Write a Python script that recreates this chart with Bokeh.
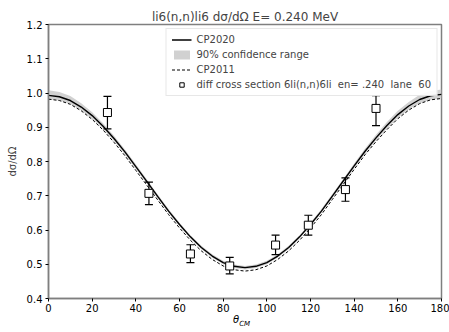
from bokeh.plotting import figure
from bokeh.models import Range1d, FixedTicker, Legend, LegendItem, PrintfTickFormatter, Div
from bokeh.layouts import column
from bokeh.embed import file_html
from bokeh.resources import INLINE

# ---- data ----
theta = [0, 5, 10, 15, 20, 25, 30, 35, 40, 45, 50, 55, 60, 65, 70, 75, 80, 85, 90,
         95, 100, 105, 110, 115, 120, 125, 130, 135, 140, 145, 150, 155, 160, 165, 170, 175, 180]
cp2020 = [0.993, 0.989, 0.978, 0.959, 0.934, 0.903, 0.867, 0.828, 0.785, 0.742, 0.698, 0.655, 0.616,
          0.580, 0.549, 0.524, 0.505, 0.494, 0.490,
          0.494, 0.505, 0.524, 0.549, 0.580, 0.616, 0.655, 0.699, 0.743, 0.787, 0.830, 0.869,
          0.905, 0.937, 0.962, 0.981, 0.992, 0.996]
band_lo = [0.982, 0.978, 0.968, 0.950, 0.925, 0.895, 0.860, 0.821, 0.779, 0.736, 0.692, 0.650, 0.611,
           0.575, 0.544, 0.519, 0.500, 0.489, 0.485,
           0.489, 0.500, 0.519, 0.544, 0.575, 0.611, 0.650, 0.693, 0.737, 0.780, 0.823, 0.861,
           0.896, 0.928, 0.952, 0.970, 0.980, 0.984]
band_hi = [1.008, 1.003, 0.991, 0.970, 0.944, 0.912, 0.875, 0.835, 0.792, 0.748, 0.704, 0.661, 0.621,
           0.585, 0.554, 0.529, 0.510, 0.499, 0.495,
           0.499, 0.510, 0.529, 0.554, 0.585, 0.621, 0.661, 0.705, 0.749, 0.794, 0.838, 0.878,
           0.915, 0.948, 0.974, 0.995, 1.006, 1.010]
cp2011 = [0.982, 0.978, 0.967, 0.948, 0.923, 0.892, 0.856, 0.817, 0.774, 0.731, 0.688, 0.645, 0.606,
          0.570, 0.539, 0.514, 0.495, 0.484, 0.480,
          0.484, 0.495, 0.514, 0.539, 0.570, 0.606, 0.645, 0.689, 0.733, 0.777, 0.820, 0.858,
          0.893, 0.925, 0.950, 0.969, 0.980, 0.984]

exp_theta = [27, 46, 65, 83, 104, 119, 136, 150]
exp_val = [0.943, 0.707, 0.530, 0.495, 0.556, 0.614, 0.718, 0.955]
exp_lo = [0.895, 0.674, 0.505, 0.472, 0.528, 0.585, 0.684, 0.905]
exp_hi = [0.990, 0.740, 0.557, 0.520, 0.585, 0.643, 0.752, 0.992]

x_ticks = [0, 20, 40, 60, 80, 100, 120, 140, 160, 180]
y_ticks = [0.4, 0.5, 0.6, 0.7, 0.8, 0.9, 1.0, 1.1, 1.2]

FONT = "DejaVu Sans"
AX = "#7f7f7f"

p = figure(width=449, height=316, output_backend="svg", toolbar_location=None,
           x_range=Range1d(0, 180), y_range=Range1d(0.4, 1.2),
           min_border_left=48, min_border_right=8, min_border_top=24, min_border_bottom=18)
p.title.text = "li6(n,n)li6 dσ/dΩ E= 0.240 MeV"
p.title.align = "center"
p.title.text_font = FONT
p.title.text_font_size = "12px"
p.title.text_font_style = "normal"
p.title.offset = 0
p.title.standoff = 2
p.grid.visible = False
p.outline_line_color = AX
p.outline_line_width = 1.5

for ax in (p.xaxis[0], p.yaxis[0]):
    ax.axis_line_color = AX
    ax.axis_line_width = 1.5
    ax.major_tick_line_color = "black"
    ax.major_tick_out = 3
    ax.major_tick_in = 0
    ax.minor_tick_line_color = None
    ax.major_label_text_font = FONT
    ax.major_label_text_font_size = "10px"
    ax.major_label_text_color = "black"
    ax.axis_label_text_font = FONT
    ax.axis_label_text_font_style = "normal"
p.xaxis.ticker = FixedTicker(ticks=x_ticks)
p.yaxis.ticker = FixedTicker(ticks=y_ticks)
p.yaxis.formatter = PrintfTickFormatter(format="%.1f")
p.xaxis.major_label_standoff = 2
p.yaxis.major_label_standoff = 3
p.yaxis.axis_label = "dσ/dΩ"
p.yaxis.axis_label_text_font_size = "10px"
p.yaxis.axis_label_standoff = 6

band = p.varea(x=theta, y1=band_lo, y2=band_hi, fill_color="#cccccc", fill_alpha=0.9)
l2020 = p.line(theta, cp2020, line_color="black", line_width=1.4)
l2011 = p.line(theta, cp2011, line_color="black", line_width=1.0, line_dash="3 2")
err = p.segment(x0=exp_theta, y0=exp_lo, x1=exp_theta, y1=exp_hi, line_color="black", line_width=1.2)
cap_lo = p.scatter(exp_theta, exp_lo, marker="dash", size=8, line_color="black", line_width=1.2)
cap_hi = p.scatter(exp_theta, exp_hi, marker="dash", size=8, line_color="black", line_width=1.2)
pts = p.scatter(exp_theta, exp_val, marker="square", size=8, fill_color="white", line_color="black", line_width=1.0)

legend = Legend(items=[
    LegendItem(label="CP2020", renderers=[l2020]),
    LegendItem(label="90% confidence range", renderers=[band]),
    LegendItem(label="CP2011", renderers=[l2011]),
    LegendItem(label="diff cross section 6li(n,n)6li  en= .240  lane  60", renderers=[pts]),
], location="top_right")
legend.label_text_font = FONT
legend.label_text_font_size = "10px"
legend.label_height = 11
legend.glyph_height = 11
legend.glyph_width = 20
legend.label_standoff = 5
legend.spacing = 4
legend.padding = 5
legend.margin = 4
legend.border_line_color = "#d0d0d0"
legend.border_line_width = 1
legend.background_fill_alpha = 0.9
p.add_layout(legend)

xlabel = Div(width=449, height=16, margin=0,
             text='<div style="position:relative;width:449px;height:16px;">'
                  '<span style="position:absolute;left:233px;top:-3px;font-family:\'DejaVu Sans\';'
                  'font-size:10px;font-style:italic;color:black;white-space:nowrap;">θ'
                  '<sub style="font-size:7px;">CM</sub></span></div>')

layout = column(p, xlabel, spacing=0)
open("out.html", "w").write(file_html(layout, INLINE))
